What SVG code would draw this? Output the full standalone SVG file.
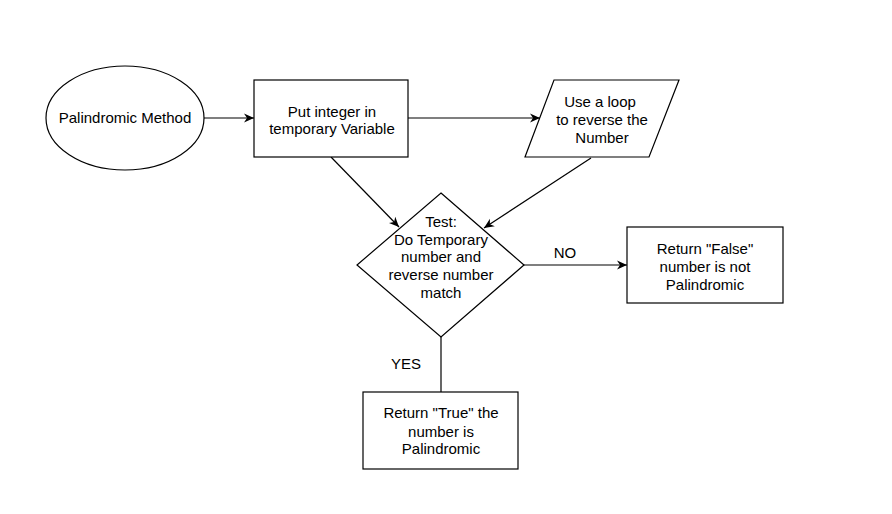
<svg xmlns="http://www.w3.org/2000/svg" width="892" height="514" viewBox="0 0 892 514">
<style>
.s{fill:#fff;stroke:#000;stroke-width:1.2}
.t{font-family:"Liberation Sans",Arial,sans-serif;font-size:15px;fill:#000;text-anchor:middle}
.c{fill:none;stroke:#000;stroke-width:1.2}
</style>
<defs>
<marker id="a" viewBox="0 0 10 10" refX="10" refY="5" markerWidth="10" markerHeight="10" markerUnits="userSpaceOnUse" orient="auto">
<path d="M0,0.5 L10,5 L0,9.5 L3,5 z" fill="#000"/>
</marker>
</defs>
<rect width="892" height="514" fill="#fff"/>
<g id="connectors">
<line class="c" x1="204" y1="118" x2="254" y2="118" marker-end="url(#a)"/>
<line class="c" x1="408" y1="118" x2="540" y2="118" marker-end="url(#a)"/>
<line class="c" x1="331" y1="157" x2="399" y2="227" marker-end="url(#a)"/>
<line class="c" x1="591" y1="158" x2="484" y2="228" marker-end="url(#a)"/>
<line class="c" x1="524" y1="265" x2="627" y2="265" marker-end="url(#a)"/>
<line class="c" x1="441" y1="337" x2="441" y2="392"/>
<text class="t" x="565" y="258">NO</text>
<text class="t" x="406" y="369">YES</text>
</g>
<g id="start">
<ellipse class="s" cx="125" cy="118" rx="79" ry="52"/>
<text class="t" x="125" y="123">Palindromic Method</text>
</g>
<g id="put">
<rect class="s" x="254" y="80" width="154" height="77"/>
<text class="t" x="332" y="117">Put integer in</text>
<text class="t" x="332" y="134">temporary Variable</text>
</g>
<g id="loop">
<polygon class="s" points="554,80 679,80 649,157 525,157"/>
<text class="t" x="600" y="107">Use a loop</text>
<text class="t" x="602" y="125">to reverse the</text>
<text class="t" x="602" y="143">Number</text>
</g>
<g id="test">
<polygon class="s" points="441,193 524,265 441,337 357,265"/>
<text class="t" x="441" y="227">Test:</text>
<text class="t" x="441" y="245">Do Temporary</text>
<text class="t" x="441" y="262">number and</text>
<text class="t" x="441" y="280">reverse number</text>
<text class="t" x="441" y="298">match</text>
</g>
<g id="false">
<rect class="s" x="627" y="227" width="156" height="76"/>
<text class="t" x="705" y="254">Return "False"</text>
<text class="t" x="705" y="272">number is not</text>
<text class="t" x="705" y="290">Palindromic</text>
</g>
<g id="true">
<rect class="s" x="363" y="392" width="155" height="77"/>
<text class="t" x="441" y="418">Return "True" the</text>
<text class="t" x="441" y="437">number is</text>
<text class="t" x="441" y="454">Palindromic</text>
</g>
</svg>
